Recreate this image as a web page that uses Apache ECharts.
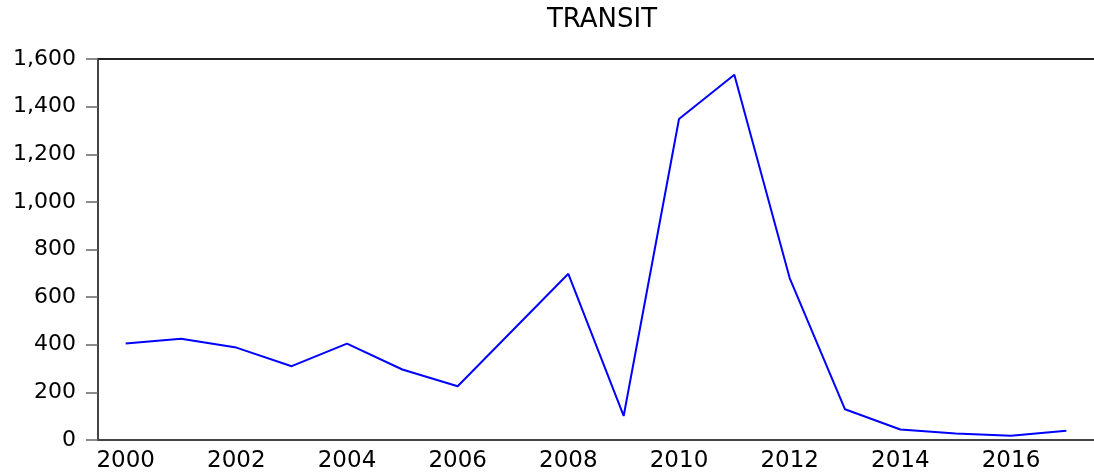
<!DOCTYPE html>
<html>
<head>
<meta charset="utf-8">
<script src="https://cdn.jsdelivr.net/npm/echarts@6/dist/echarts.min.js"></script>
<style>
  html, body { margin: 0; padding: 0; background: #fff; overflow: hidden; }
  #chart { width: 1094px; height: 473px; }
</style>
</head>
<body>
<div id="chart"></div>
<script>
// annual data
var years = ["2000", "2001", "2002", "2003", "2004", "2005", "2006", "2007", "2008",
             "2009", "2010", "2011", "2012", "2013", "2014", "2015", "2016", "2017"];
var transit = [405, 425, 388, 310, 405, 296, 226, 462, 698,
               101, 1348, 1534, 680, 129, 44, 27, 18, 39];
var yTicks = [0, 200, 400, 600, 800, 1000, 1200, 1400, 1600];

var mychart = echarts.init(document.getElementById("chart"));

var labelFont = "DejaVu Sans";

var option = {
  animation: false,
  title: {
    text: "TRANSIT",
    left: 597,
    textAlign: "center",
    top: 2,
    textStyle: {
      fontFamily: labelFont,
      fontWeight: "normal",
      fontSize: 26,
      color: "#000"
    }
  },
  grid: {
    left: 98,
    right: -2,
    top: 59,
    bottom: 31.4
  },
  xAxis: [
    {
      type: "category",
      data: years,
      boundaryGap: true,
      axisLine: { lineStyle: { color: "#444", width: 2 } },
      axisTick: { interval: 0, length: 8, lineStyle: { color: "#444", width: 1.5 } },
      axisLabel: {
        interval: 1,
        margin: 10,
        color: "#000",
        fontFamily: labelFont,
        fontSize: 23
      },
      splitLine: { show: false }
    },
    {
      // top frame line only
      type: "category",
      data: years,
      position: "top",
      axisLine: { lineStyle: { color: "#222", width: 2 } },
      axisTick: { show: false },
      axisLabel: { show: false },
      splitLine: { show: false }
    }
  ],
  yAxis: {
    type: "value",
    min: yTicks[0],
    max: yTicks[yTicks.length - 1],
    interval: 200,
    axisLine: { show: true, lineStyle: { color: "#444", width: 2 } },
    axisTick: { show: true, length: 12, lineStyle: { color: "#666", width: 1.5 } },
    axisLabel: {
      margin: 22,
      color: "#000",
      fontFamily: labelFont,
      fontSize: 22,
      formatter: function (v) { return v.toLocaleString("en-US"); }
    },
    splitLine: { show: false }
  },
  series: [
    {
      name: "TRANSIT",
      type: "line",
      data: transit,
      symbol: "none",
      lineStyle: { color: "#0000ff", width: 2 }
    }
  ]
};
mychart.setOption(option);
</script>
</body>
</html>
